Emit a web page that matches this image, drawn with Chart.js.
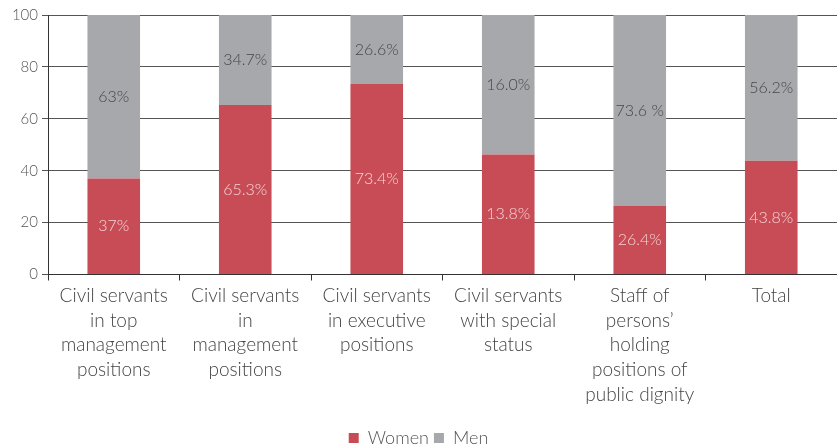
<!DOCTYPE html>
<html>
<head>
<meta charset="utf-8">
<script src="https://cdn.jsdelivr.net/npm/chart.js@4/dist/chart.umd.min.js"></script>
<style>
  html, body { margin: 0; padding: 0; background: #fff; }
  #wrap { width: 837px; height: 445px; position: relative; }
</style>
</head>
<body>
<div id="wrap"><canvas id="chart"></canvas></div>
<script>
// ---- data ----
const categories = [
  ['Civil servants', 'in top', 'management', 'positions'],
  ['Civil servants', 'in', 'management', 'positions'],
  ['Civil servants', 'in executive', 'positions'],
  ['Civil servants', 'with special', 'status'],
  ['Staff of', 'persons\u2019', 'holding', 'positions of', 'public dignity'],
  ['Total']
];
const women = [37, 65.3, 73.4, 46.2, 26.4, 43.8];
const men   = [63, 34.7, 26.6, 53.8, 73.6, 56.2];
const womenLabels = ['37%', '65.3%', '73.4%', '13.8%', '26.4%', '43.8%'];
const menLabels   = ['63%', '34.7%', '26.6%', '16.0%', '73.6 %', '56.2%'];
const yTicks = [0, 20, 40, 60, 80, 100];

// labels in the middle of each segment
const segLabels = {
  id: 'segLabels',
  afterDatasetsDraw(chart) {
    const ctx = chart.ctx;
    ctx.save();
    ctx.font = '300 16px Lato';
    ctx.textAlign = 'center';
    ctx.textBaseline = 'middle';
    chart.data.datasets.forEach((ds, i) => {
      const meta = chart.getDatasetMeta(i);
      ctx.fillStyle = ds.labelColor;
      meta.data.forEach((bar, j) => {
        ctx.fillText(ds.texts[j], bar.x, (bar.y + bar.base) / 2);
      });
    });
    ctx.restore();
  }
};

new Chart(document.getElementById('chart'), {
  type: 'bar',
  data: {
    labels: categories,
    datasets: [
      { label: 'Women', data: women, texts: womenLabels, labelColor: '#f4d3d6',
        backgroundColor: '#c84c56', barPercentage: 0.4, categoryPercentage: 1 },
      { label: 'Men', data: men, texts: menLabels, labelColor: '#474747',
        backgroundColor: '#a7a8ac', barPercentage: 0.4, categoryPercentage: 1 }
    ]
  },
  plugins: [segLabels],
  options: {
    animation: false,
    responsive: true,
    maintainAspectRatio: false,
    layout: { padding: { top: 15, right: 0, left: 0, bottom: -12 } },
    plugins: {
      tooltip: { enabled: false },
      legend: {
        position: 'bottom',
        labels: {
          font: { family: 'Lato', size: 18, weight: 300 },
          color: '#555',
          boxWidth: 10, boxHeight: 10,
          padding: 5
        }
      }
    },
    scales: {
      x: {
        stacked: true,
        afterFit: (s) => { s.height += 14; },
        border: { color: '#333', width: 1 },
        grid: { drawOnChartArea: false, drawTicks: true, tickLength: 6, color: '#333' },
        ticks: { font: { family: 'Lato', size: 19, weight: 300, lineHeight: 1.3 }, color: '#444', maxRotation: 0, autoSkip: false, padding: 3 }
      },
      y: {
        stacked: true,
        min: 0, max: 100,
        afterBuildTicks: (s) => { s.ticks = yTicks.map(v => ({ value: v })); },
        afterFit: (s) => { s.width = 48; },
        border: { color: '#333', width: 1 },
        grid: { color: '#555', tickLength: 6 },
        ticks: { font: { family: 'Lato', size: 15, weight: 300 }, color: '#555', padding: 4 }
      }
    }
  }
});
</script>
</body>
</html>
